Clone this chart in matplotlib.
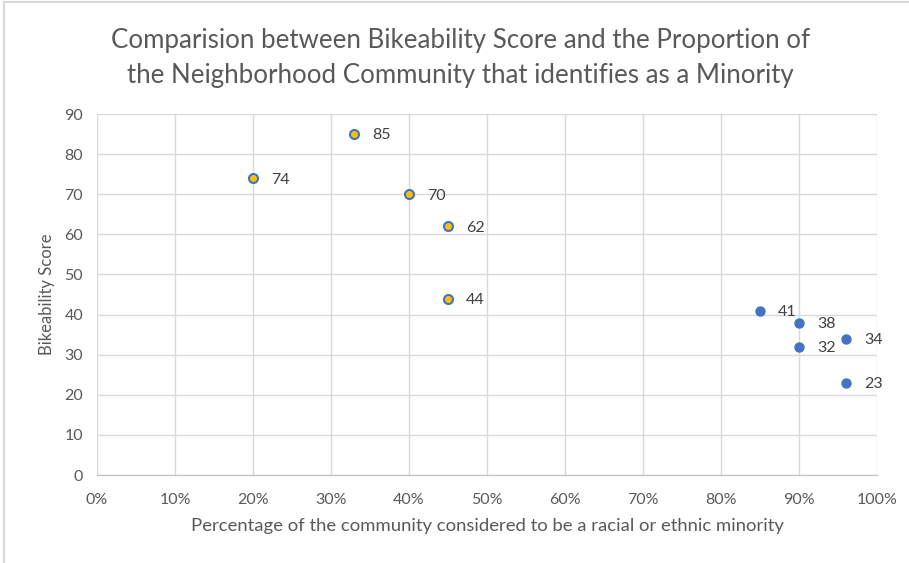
import matplotlib.pyplot as plt
from matplotlib.ticker import PercentFormatter
from matplotlib.lines import Line2D

# neighborhoods with lower minority share (highlighted)
minority_low = [0.20, 0.33, 0.40, 0.45, 0.45]
score_low = [74, 85, 70, 62, 44]

# neighborhoods with higher minority share
minority_high = [0.85, 0.90, 0.90, 0.96, 0.96]
score_high = [41, 38, 32, 34, 23]

x_ticks = [i / 10 for i in range(11)]
y_ticks = list(range(0, 100, 10))

plt.rcParams['font.family'] = ['Lato', 'DejaVu Sans']
txt = '#595959'

fig = plt.figure(figsize=(9.09, 5.63), dpi=100)
ax = fig.add_axes([0.1067, 0.1563, 0.8581, 0.6412])

ax.scatter(minority_low, score_low, s=42, color='#FFC000',
           edgecolors='#4472C4', linewidths=1.5, zorder=3)
ax.scatter(minority_high, score_high, s=42, color='#4472C4',
           edgecolors='#4472C4', linewidths=1, zorder=3)

for x, y in zip(minority_low + minority_high, score_low + score_high):
    ax.annotate(str(y), (x, y), xytext=(13, -1), textcoords='offset points',
                va='center', ha='left', fontsize=11.5, color='#404040')

ax.set_xlim(0, 1)
ax.set_ylim(0, 90)
ax.set_xticks(x_ticks)
ax.set_yticks(y_ticks)
ax.xaxis.set_major_formatter(PercentFormatter(1.0, decimals=0))
ax.grid(True, color='#D9D9D9', linewidth=1)
ax.set_axisbelow(True)
ax.tick_params(length=0, labelsize=11.5, labelcolor=txt)
ax.tick_params(axis='x', pad=13)
ax.tick_params(axis='y', pad=10)
for s in ['top', 'right', 'left']:
    ax.spines[s].set_visible(False)
ax.spines['bottom'].set_color('#BFBFBF')

ax.set_xlabel('Percentage of the community considered to be a racial or ethnic minority',
              fontsize=13.3, color=txt, labelpad=8)
ax.set_ylabel('Bikeability Score', fontsize=12, color=txt, labelpad=7)

fig.text(0.507, 0.897,
         'Comparision between Bikeability Score and the Proportion of\n'
         'the Neighborhood Community that identifies as a Minority',
         ha='center', va='center', fontsize=18.6, color=txt, linespacing=1.5)

# chart frame edges
fig.add_artist(Line2D([0.0044, 1], [0.9964, 0.9964], color='#D9D9D9', lw=1.5))
fig.add_artist(Line2D([0.0044, 0.0044], [0, 0.9964], color='#D9D9D9', lw=1.5))

fig.savefig('out.png', dpi=100)
